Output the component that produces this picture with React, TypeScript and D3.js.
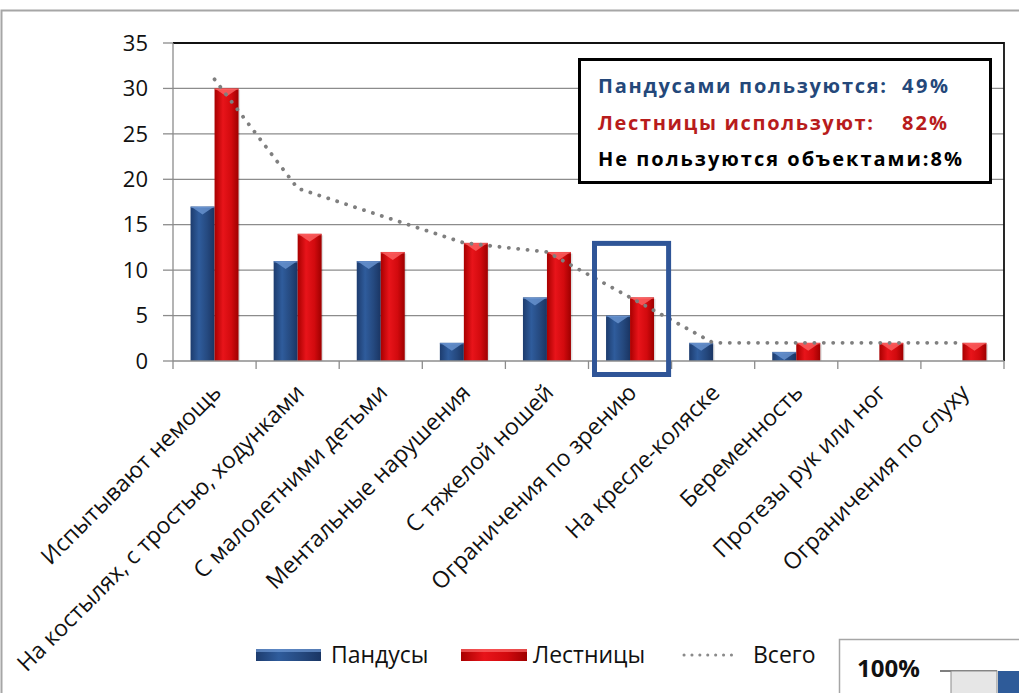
import React from 'react';
import * as d3 from 'd3';

const categories = [
  'Испытывают немощь',
  'На костылях, с тростью, ходунками',
  'С малолетними детьми',
  'Ментальные нарушения',
  'С тяжелой ношей',
  'Ограничения по зрению',
  'На кресле-коляске',
  'Беременность',
  'Протезы рук или ног',
  'Ограничения по слуху',
];
const rampValues = [17, 11, 11, 2, 7, 5, 2, 1, 0, 0];
const stairValues = [30, 14, 12, 13, 12, 7, 0, 2, 2, 2];
const totalValues = [31, 19, 16, 13, 12, 7, 2, 2, 2, 2];
const yTicks = [0, 5, 10, 15, 20, 25, 30, 35];
const seriesNames = ['Пандусы', 'Лестницы', 'Всего'];
const infoLabels = ['Пандусами пользуются:', 'Лестницы используют:', 'Не пользуются объектами:'];
const infoValues = ['49%', '82%', '8%'];
const highlightIndex = 5;
const cornerLabel = '100%';

const FONT = "'Open Sans', 'Noto Sans', sans-serif";

export default function App() {
  const W = 1019;
  const H = 693;
  const left = 173;
  const right = 1004;
  const top = 43;
  const bottom = 361;

  const x = d3.scaleBand<string>().domain(categories).range([left, right]).padding(0);
  const y = d3.scaleLinear().domain([0, 35]).range([bottom, top]);
  const groupW = 48;
  const sub = d3.scaleBand<string>().domain(['r', 's']).range([0, groupW]).padding(0);
  const bw = sub.bandwidth();

  const line = d3
    .line<number>()
    .x((_, i) => (x(categories[i]) as number) + x.bandwidth() / 2)
    .y((d) => y(d));

  const bar = (cx: number, v: number, kind: 'r' | 's', key: string) => {
    if (v <= 0) return null;
    const bx = cx - groupW / 2 + (sub(kind) as number);
    const by = y(v);
    const h = bottom - by;
    const grad = kind === 'r' ? 'url(#gBlue)' : 'url(#gRed)';
    const bev = kind === 'r' ? '#6f9ad6' : '#ff6a6a';
    const bevH = Math.min(8, h);
    return (
      <g key={key}>
        <rect x={bx + 1.5} y={by + 1.5} width={bw} height={h - 1.5} fill="#000" opacity={0.12} />
        <rect x={bx} y={by} width={bw} height={h} fill={grad} />
        <polygon
          points={`${bx + 1},${by + 0.5} ${bx + bw - 1},${by + 0.5} ${bx + bw / 2},${by + bevH}`}
          fill={bev}
          opacity={0.75}
        />
        <rect x={bx} y={by} width={bw} height={1.5} fill={bev} opacity={0.6} />
      </g>
    );
  };

  const hb0 = x(categories[highlightIndex]) as number;
  const hx0 = hb0 + 6;
  const hx1 = hb0 + x.bandwidth() - 3;
  const hy0 = y(13) + 0.5;
  const hy1 = bottom + 13.5;

  const infoColors = ['#24487a', '#b81c1c', '#000'];
  const infoLabelLen = [288, 275, 0];
  const infoValX = [902, 902, 0];
  const infoValLen = [46, 45, 0];

  return (
    <svg
      width={W}
      height={H}
      style={{ position: 'absolute', left: 0, top: 0, display: 'block', background: '#fff' }}
      fontFamily={FONT}
    >
      <defs>
        <linearGradient id="gBlue" x1="0" x2="1" y1="0" y2="0">
          <stop offset="0" stopColor="#1d3c6e" />
          <stop offset="0.35" stopColor="#2f5c9c" />
          <stop offset="0.7" stopColor="#25497f" />
          <stop offset="1" stopColor="#1a3563" />
        </linearGradient>
        <linearGradient id="gRed" x1="0" x2="1" y1="0" y2="0">
          <stop offset="0" stopColor="#a80000" />
          <stop offset="0.35" stopColor="#e8141a" />
          <stop offset="0.7" stopColor="#d20a0e" />
          <stop offset="1" stopColor="#9e0000" />
        </linearGradient>
      </defs>

      {/* outer chart border */}
      <rect x={1.5} y={10.5} width={W + 20} height={H + 20} fill="#fff" stroke="#a6a6a6" strokeWidth={2} />

      {/* gridlines */}
      {yTicks
        .filter((t) => t > 0 && t < 35)
        .map((t) => (
          <line key={t} x1={left} x2={right} y1={y(t)} y2={y(t)} stroke="#8c8c8c" strokeWidth={1.3} />
        ))}
      {/* plot border top/right */}
      <path d={`M${left},${top}H${right}V${bottom}`} fill="none" stroke="#111" strokeWidth={1.8} />

      {/* y axis */}
      <line x1={left} x2={left} y1={top} y2={bottom} stroke="#8c8c8c" strokeWidth={1.3} />
      {yTicks.map((t) => (
        <g key={t}>
          <line x1={left - 10} x2={left} y1={y(t)} y2={y(t)} stroke="#8c8c8c" strokeWidth={1.3} />
          <text x={148} y={y(t)} dy="0.35em" textAnchor="end" fontSize={22} fill="#111">
            {t}
          </text>
        </g>
      ))}

      {/* bars */}
      {categories.map((c, i) => {
        const cx = (x(c) as number) + x.bandwidth() / 2;
        return (
          <g key={c}>
            {bar(cx, rampValues[i], 'r', 'r' + i)}
            {bar(cx, stairValues[i], 's', 's' + i)}
          </g>
        );
      })}

      {/* x axis */}
      <line x1={left} x2={right} y1={bottom} y2={bottom} stroke="#8c8c8c" strokeWidth={1.3} />
      {d3.range(categories.length + 1).map((i) => {
        const xx = left + i * x.bandwidth();
        return <line key={i} x1={xx} x2={xx} y1={bottom} y2={bottom + 8} stroke="#8c8c8c" strokeWidth={1.3} />;
      })}

      {/* total dotted line */}
      <path
        d={line(totalValues) || ''}
        fill="none"
        stroke="#7f7f7f"
        strokeWidth={3.8}
        strokeDasharray="0.1 9.3"
        strokeLinecap="round"
      />

      {/* x labels */}
      {categories.map((c) => {
        const cx = (x(c) as number) + x.bandwidth() / 2;
        return (
          <text
            key={c}
            transform={`translate(${cx + 8},${bottom + 33}) rotate(-45)`}
            textAnchor="end"
            fontSize={23}
            fill="#111"
          >
            {c}
          </text>
        );
      })}

      {/* highlight */}
      <rect x={hx0} y={hy0} width={hx1 - hx0} height={hy1 - hy0} fill="none" stroke="#2f5597" strokeWidth={5} />

      {/* info box */}
      <rect x={579.5} y={59.5} width={411} height={123} fill="#fff" stroke="#000" strokeWidth={3} />
      {infoLabels.map((l, i) => (
        <g key={l} fontWeight="bold" fill={infoColors[i]} fontSize={20}>
          {i < 2 ? (
            <>
              <text x={598} y={93 + i * 36.5} textLength={infoLabelLen[i]} lengthAdjust="spacing">
                {l}
              </text>
              <text x={infoValX[i]} y={93 + i * 36.5} textLength={infoValLen[i]} lengthAdjust="spacing">
                {infoValues[i]}
              </text>
            </>
          ) : (
            <text x={598} y={93 + i * 36.5} textLength={364} lengthAdjust="spacing">
              {l + infoValues[i]}
            </text>
          )}
        </g>
      ))}

      {/* legend */}
      <g>
        <rect x={256} y={649} width={65} height={12} fill="url(#gBlue)" />
        <rect x={256} y={649} width={65} height={3} fill="#6f9ad6" opacity={0.7} />
        <text x={331} y={655} dy="0.35em" fontSize={23} fill="#111">
          {seriesNames[0]}
        </text>
        <rect x={461} y={649} width={66} height={12} fill="url(#gRed)" />
        <rect x={461} y={649} width={66} height={3} fill="#ff6a6a" opacity={0.7} />
        <text x={533} y={655} dy="0.35em" fontSize={23} fill="#111">
          {seriesNames[1]}
        </text>
        <line
          x1={684}
          x2={739}
          y1={655}
          y2={655}
          stroke="#8a8a8a"
          strokeWidth={3}
          strokeDasharray="0.1 7.8"
          strokeLinecap="round"
        />
        <text x={753} y={655} dy="0.35em" fontSize={23} fill="#111">
          {seriesNames[2]}
        </text>
      </g>

      {/* bottom-right fragment */}
      <rect x={839.5} y={639.5} width={200} height={80} fill="#fff" stroke="#a6a6a6" strokeWidth={1.5} />
      <text x={857} y={677} fontSize={24} fontWeight="bold" fill="#111">
        {cornerLabel}
      </text>
      <line x1={940} x2={997} y1={671} y2={671} stroke="#555" strokeWidth={1.3} />
      <rect x={951} y={671} width={46} height={30} fill="#e6e6e6" stroke="#8c8c8c" strokeWidth={1} />
      <rect x={998} y={671} width={30} height={30} fill="#2e5b99" />
    </svg>
  );
}
